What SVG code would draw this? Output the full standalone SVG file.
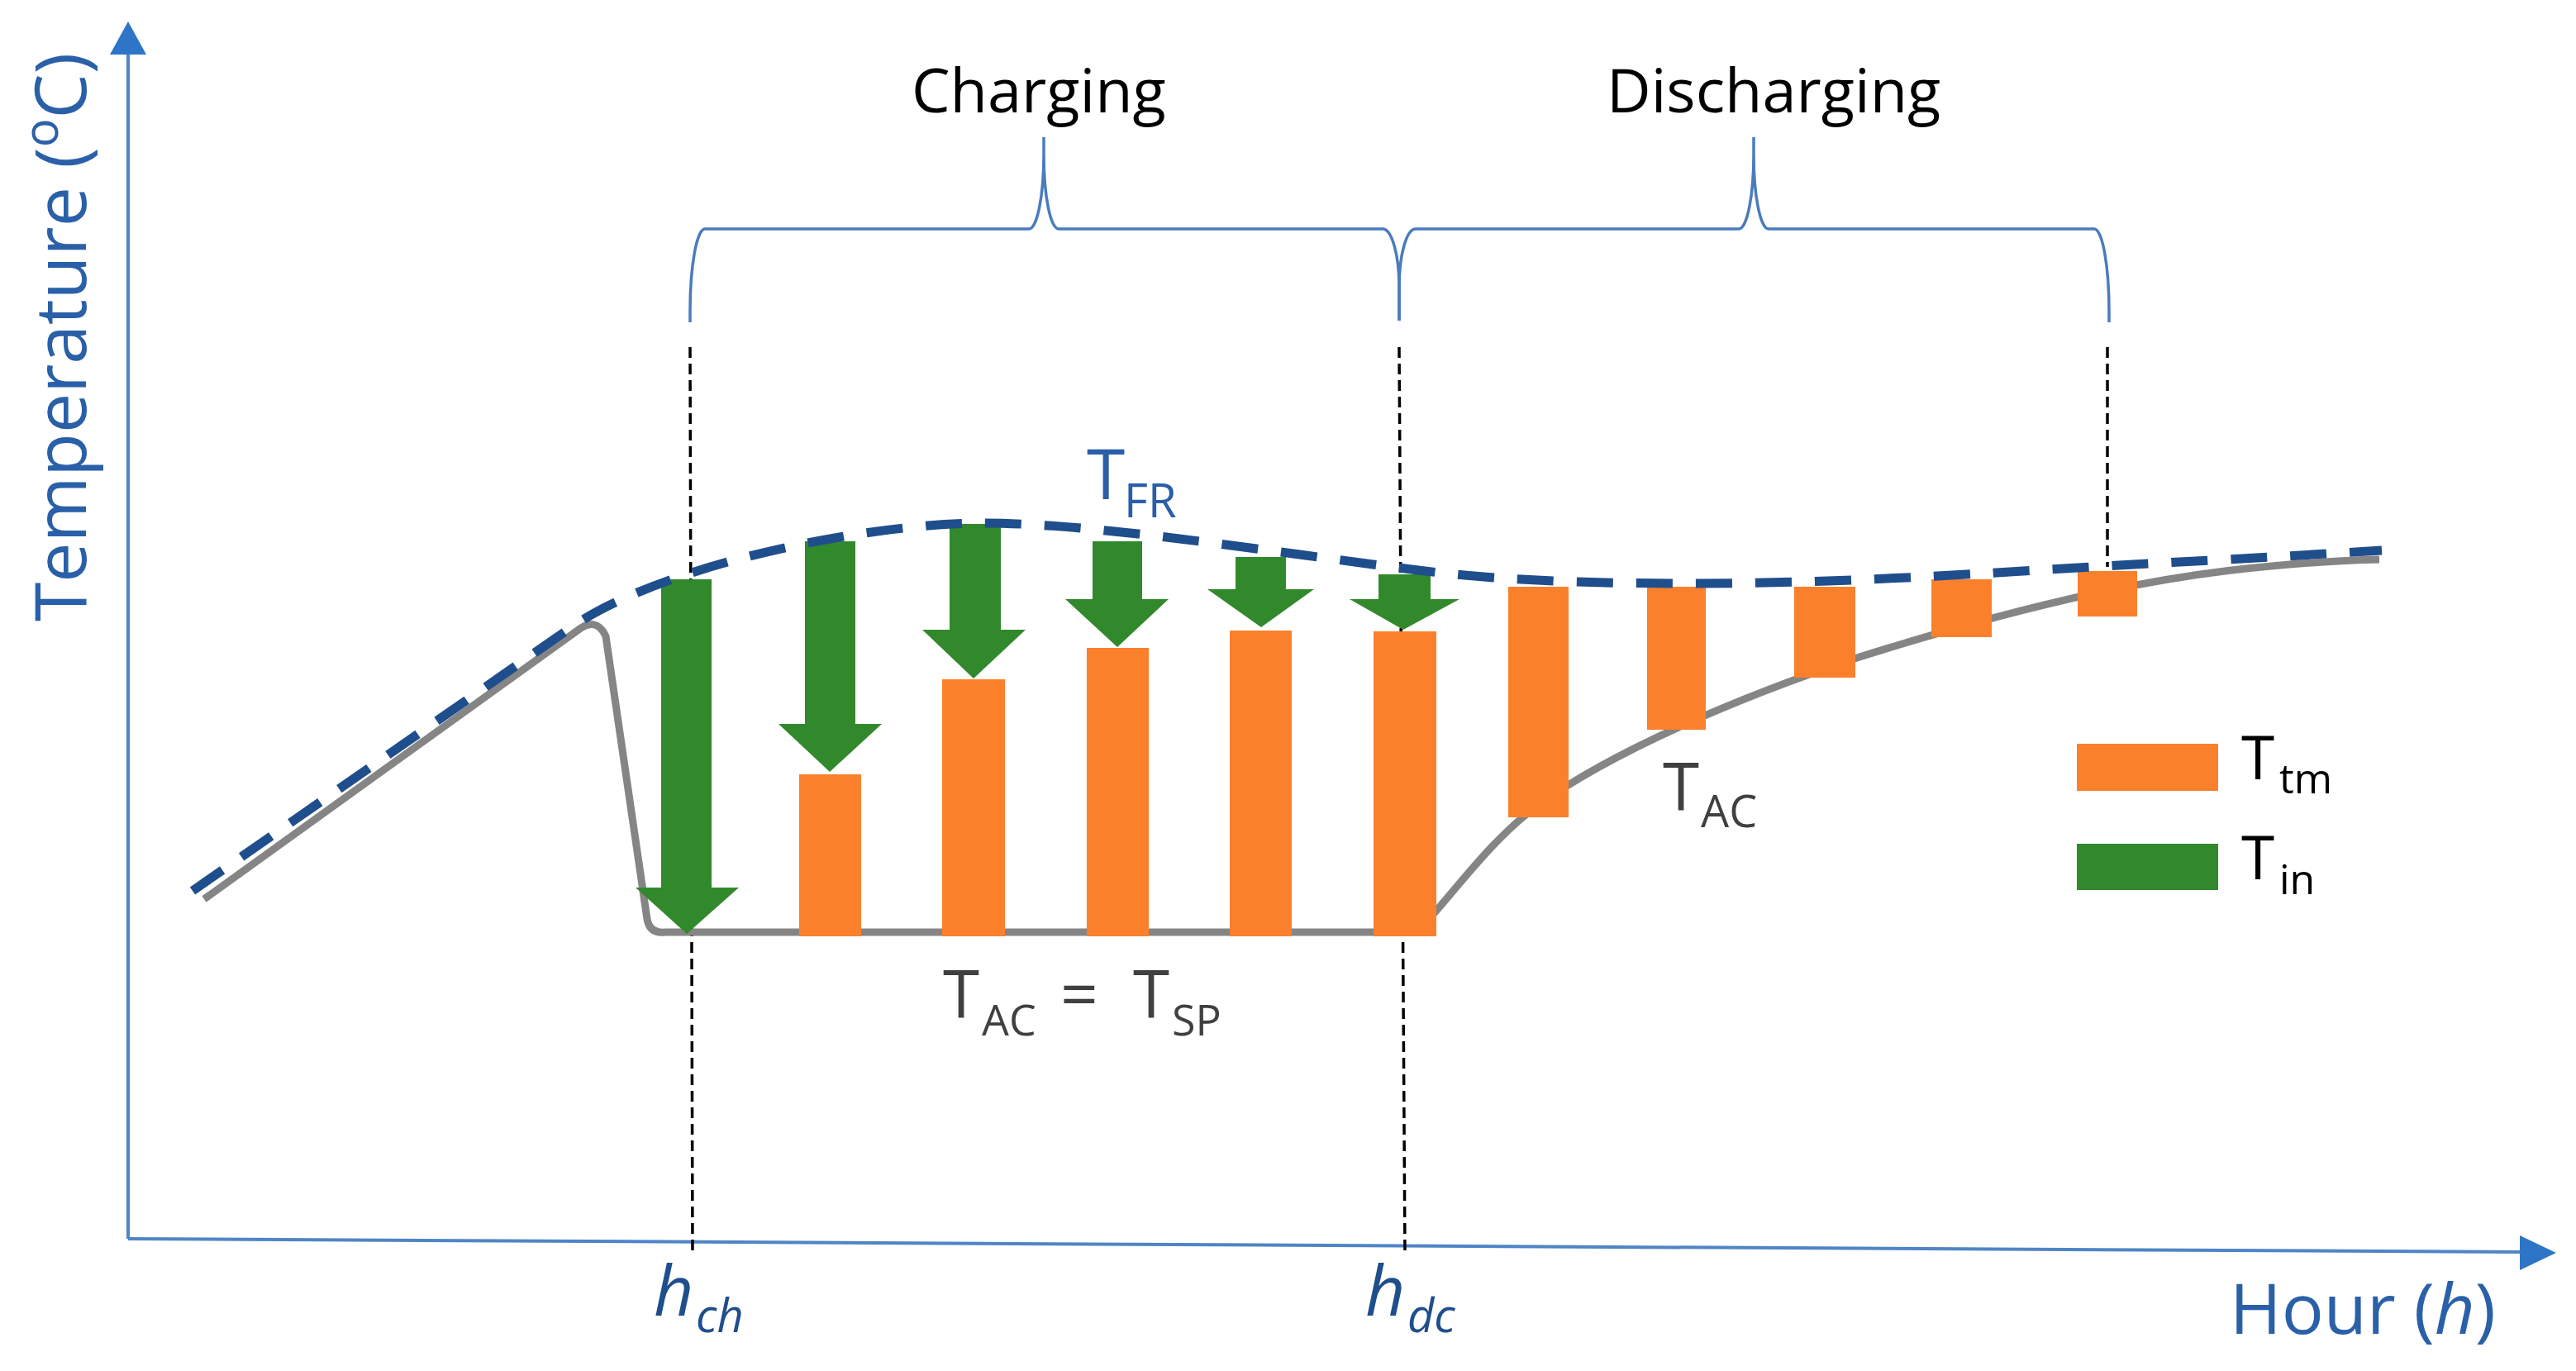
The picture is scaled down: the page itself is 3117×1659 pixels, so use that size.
<svg xmlns="http://www.w3.org/2000/svg" width="3117" height="1659" viewBox="0 0 3117 1659">
<style>
  text { font-family: "Open Sans", "Liberation Sans", sans-serif; }
  .axis { stroke: #4f85c6; stroke-width: 4; fill: none; }
  .axhead { fill: #2e75c8; }
  .axlabel { fill: #2a60a8; }
  .hlabel { fill: #1f4e8c; font-style: italic; }
  .brace { stroke: #4a7cbc; stroke-width: 3.5; fill: none; }
  .vdash { stroke: #000; stroke-width: 3.5; stroke-dasharray: 13 7; fill: none; }
  .tac { stroke: #858585; stroke-width: 9; fill: none; stroke-linejoin: round; stroke-linecap: butt; }
  .tfr { stroke: #1f4e8c; stroke-width: 11; fill: none; stroke-dasharray: 44 28; }
  .tin { fill: #31892c; }
  .ttm { fill: #fa802b; }
  .gray { fill: #404040; }
  .phase { fill: #000; font-size: 74px; }
  .leg { fill: #000; }
</style>

<g id="axes">
  <line class="axis" x1="155" y1="1499" x2="155" y2="62"/>
  <polygon class="axhead" points="155,26 133,66 177,66"/>
  <line class="axis" x1="155" y1="1499" x2="3052" y2="1515"/>
  <polygon class="axhead" points="3093,1516 3049,1495 3049,1537"/>
  <text class="axlabel" font-size="86" transform="translate(104,752) rotate(-90)">Temperature (<tspan font-size="58" dy="-34">o</tspan><tspan dy="34">C)</tspan></text>
  <text class="axlabel" x="2698" y="1614" font-size="85">Hour (<tspan font-style="italic">h</tspan>)</text>
</g>

<g id="guides">
  <line class="vdash" x1="835" y1="420" x2="838" y2="1517"/>
  <line class="vdash" x1="1693" y1="420" x2="1700" y2="1517"/>
  <line class="vdash" x1="2550" y1="420" x2="2550" y2="686"/>
</g>

<g id="brace-charging">
  <path class="brace" d="M835,390 V377 A18,100 0 0 1 853,277 H1245 A18,90 0 0 0 1263,187 V166 M1263,187 A18,90 0 0 0 1281,277 H1673 A20,70 0 0 1 1693,347 V388"/>
  <text class="phase" x="1103" y="136">Charging</text>
</g>
<g id="brace-discharging">
  <path class="brace" d="M1693,388 V347 A20,70 0 0 1 1713,277 H2104 A18,90 0 0 0 2122,187 V166 M2122,187 A18,90 0 0 0 2140,277 H2534 A18,100 0 0 1 2552,377 V390"/>
  <text class="phase" x="1944" y="136">Discharging</text>
</g>

<g id="curve-TAC">
  <path class="tac" d="M247,1088 L700,762 Q722,746 733,770 L783,1112 Q786,1130 805,1128 H1715 C1760,1080 1800,1020 1860,975 C1950,910 2100,845 2250,795 C2400,748 2550,708 2700,690 C2780,681 2830,678 2879,677"/>
</g>

<g id="bars-Ttm">
  <rect class="ttm" x="967" y="937" width="75" height="196"/>
  <rect class="ttm" x="1140" y="822" width="76" height="311"/>
  <rect class="ttm" x="1315" y="784" width="75" height="349"/>
  <rect class="ttm" x="1488" y="763" width="75" height="370"/>
  <rect class="ttm" x="1662" y="764" width="76" height="369"/>
  <rect class="ttm" x="1825" y="710" width="73" height="279"/>
  <rect class="ttm" x="1993" y="710" width="71" height="173"/>
  <rect class="ttm" x="2171" y="710" width="74" height="110"/>
  <rect class="ttm" x="2337" y="701" width="73" height="70"/>
  <rect class="ttm" x="2514" y="691" width="72" height="55"/>
</g>

<g id="arrows-Tin">
  <polygon class="tin" points="800,701 861,701 861,1074 894,1074 831,1130 769,1074 800,1074"/>
  <polygon class="tin" points="974,655 1035,655 1035,876 1067,876 1004,934 942,876 974,876"/>
  <polygon class="tin" points="1149,634 1211,634 1211,762 1241,762 1178,821 1116,762 1149,762"/>
  <polygon class="tin" points="1322,655 1382,655 1382,725 1414,725 1352,783 1289,725 1322,725"/>
  <polygon class="tin" points="1495,674 1556,674 1556,713 1590,713 1526,759 1461,713 1495,713"/>
  <polygon class="tin" points="1668,695 1731,695 1731,725 1766,725 1698,762 1633,725 1668,725"/>
</g>

<g id="curve-TFR">
  <path class="tfr" d="M233,1078 L690,760 C800,683 1050,633 1190,633 C1320,633 1520,665 1700,688 C1800,701 1900,706 2050,706 C2250,706 2450,690 2600,682 C2700,677 2800,671 2882,666"/>
</g>

<g id="labels">
  <text fill="#2a5ea8" x="1315" y="604" font-size="84">T<tspan x="1360" y="626" font-size="56">FR</tspan></text>
  <text class="gray" x="1141" y="1232" font-size="80">T<tspan x="1188" y="1253" font-size="52">AC</tspan></text>
  <text class="gray" x="1283" y="1232" font-size="80">=</text>
  <text class="gray" x="1371" y="1232" font-size="80">T<tspan x="1418" y="1253" font-size="52">SP</tspan></text>
  <text class="gray" x="2012" y="981" font-size="80">T<tspan x="2058" y="1001" font-size="54">AC</tspan></text>
  <text class="hlabel" x="791" y="1592" font-size="84">h<tspan x="842" y="1612" font-size="56">ch</tspan></text>
  <text class="hlabel" x="1652" y="1592" font-size="84">h<tspan x="1703" y="1612" font-size="56">dc</tspan></text>
</g>

<g id="legend">
  <rect class="ttm" x="2513" y="900" width="171" height="57"/>
  <text class="leg" x="2712" y="943" font-size="73">T<tspan x="2758" y="960" font-size="50">tm</tspan></text>
  <rect class="tin" x="2513" y="1021" width="171" height="56"/>
  <text class="leg" x="2712" y="1064" font-size="73">T<tspan x="2758" y="1082" font-size="50">in</tspan></text>
</g>
</svg>
